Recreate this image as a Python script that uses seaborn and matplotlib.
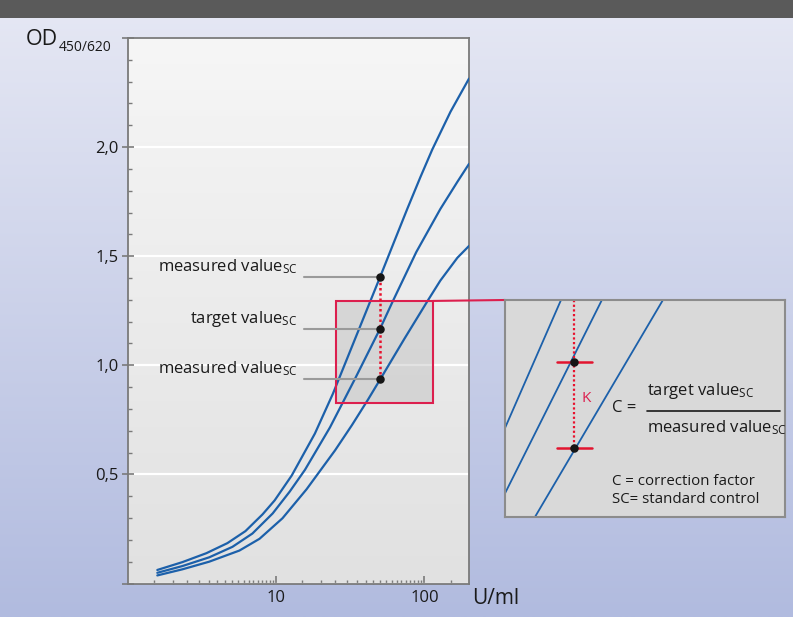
import numpy as np
import pandas as pd
import matplotlib
matplotlib.use("Agg")
import matplotlib.pyplot as plt
import seaborn as sns
from matplotlib.colors import LinearSegmentedColormap
from matplotlib.patches import Rectangle, ConnectionPatch
from matplotlib.ticker import FixedLocator, FixedFormatter, NullFormatter

# -------- DATA --------
top_x = [1.57, 2.32, 3.37, 4.67, 6.18, 8.07, 9.74, 12.7, 18.2, 24.1, 50.2, 63.6, 76.6, 94.0, 113, 150, 200]
top_y = [0.062, 0.098, 0.139, 0.185, 0.240, 0.317, 0.381, 0.495, 0.687, 0.870, 1.405, 1.580, 1.717, 1.863, 1.989, 2.162, 2.314]

mid_x = [1.57, 2.32, 3.52, 5.05, 6.89, 9.44, 12.3, 15.6, 23.0, 33.9, 50.2, 60.7, 88.1, 128, 167, 200]
mid_y = [0.049, 0.080, 0.120, 0.168, 0.229, 0.321, 0.421, 0.521, 0.715, 0.937, 1.168, 1.289, 1.519, 1.716, 1.841, 1.923]

bot_x = [1.57, 2.32, 3.52, 5.63, 7.70, 11.0, 16.0, 24.9, 32.4, 41.6, 50.2, 73.3, 105, 128, 167, 200]
bot_y = [0.037, 0.065, 0.100, 0.151, 0.205, 0.299, 0.432, 0.610, 0.726, 0.843, 0.935, 1.122, 1.295, 1.388, 1.493, 1.547]

# standard control reading
sc_conc = 50.2
sc_od = [1.405, 1.168, 0.935]
sc_labels = [r"measured value$_\mathregular{SC}$", r"target value$_\mathregular{SC}$",
             r"measured value$_\mathregular{SC}$"]

# zoomed window on the main chart
zoom_x = [25.2, 115]
zoom_y = [0.829, 1.295]

# schematic inset (own 0..1 units)
inset_x = [[0.200, 0.0], [0.346, 0.0], [0.564, 0.107]]
inset_y = [[1.0, 0.41], [1.0, 0.109], [1.0, 0.0]]
inset_dot_x = 0.246
inset_dot_y = [0.716, 0.317]

y_ticks = [0, 0.5, 1.0, 1.5, 2.0, 2.5]
y_ticklabels = ["", "0,5", "1,0", "1,5", "2,0", ""]
x_ticks = [10, 100]
x_ticklabels = ["10", "100"]

# -------- SETTINGS --------
sns.set_theme(style="white")
plt.rcParams["font.family"] = ["Open Sans", "DejaVu Sans"]
plt.rcParams["mathtext.fontset"] = "custom"
plt.rcParams["mathtext.rm"] = "Open Sans"
plt.rcParams["mathtext.it"] = "Open Sans:italic"
plt.rcParams["mathtext.bf"] = "Open Sans:bold"

BLUE = "#1c60aa"
RED = "#dc1f4e"
SPINE = "#7a7a7a"
TXT = "#1a1a1a"

W, H = 793, 617
fig = plt.figure(figsize=(W / 100, H / 100), dpi=100)

ax_rect = [128.3 / W, 33.5 / H, 340.7 / W, 545.5 / H]
in_rect = [505 / W, 100 / H, 280 / W, 217 / H]

# background gradients
bg = fig.add_axes([0, 0, 1, 1], zorder=-10)
grad = np.linspace(0, 1, 256).reshape(-1, 1)
bg.imshow(grad, aspect="auto", extent=(0, 1, 0, 1),
          cmap=LinearSegmentedColormap.from_list("bg", ["#e6e8f4", "#b1bbdf"]))
l, b, w, h = ax_rect
bg.imshow(grad, aspect="auto", extent=(l, l + w, b, b + h),
          cmap=LinearSegmentedColormap.from_list("ax", ["#f6f6f6", "#e1e1e1"]))
bg.add_patch(Rectangle((0, 1 - 18 / H), 1, 18 / H, color="#5a5a5a", lw=0))
bg.set_xlim(0, 1)
bg.set_ylim(0, 1)
bg.axis("off")

# -------- MAIN CHART --------
ax = fig.add_axes(ax_rect)
ax.set_facecolor("none")
ax.set_xscale("log")

df = pd.concat([
    pd.DataFrame({"U/ml": top_x, "OD": top_y, "curve": "a"}),
    pd.DataFrame({"U/ml": mid_x, "OD": mid_y, "curve": "b"}),
    pd.DataFrame({"U/ml": bot_x, "OD": bot_y, "curve": "c"}),
])
sns.lineplot(data=df, x="U/ml", y="OD", hue="curve", palette=[BLUE] * 3,
             estimator=None, sort=False, lw=1.6, legend=False, ax=ax, zorder=3)

ax.set_xlim(1, 200)
ax.set_ylim(0, 2.5)
ax.set_xlabel("")
ax.set_ylabel("")

ax.xaxis.set_major_locator(FixedLocator(x_ticks))
ax.xaxis.set_major_formatter(FixedFormatter(x_ticklabels))
minor_x = np.concatenate([np.arange(1.5, 10, 0.5), np.arange(15, 100, 5), [150]])
ax.xaxis.set_minor_locator(FixedLocator(minor_x))
ax.xaxis.set_minor_formatter(NullFormatter())
ax.yaxis.set_major_locator(FixedLocator(y_ticks))
ax.yaxis.set_major_formatter(FixedFormatter(y_ticklabels))
ax.yaxis.set_minor_locator(FixedLocator(np.arange(0.1, 2.5, 0.1)))

ax.tick_params(which="both", bottom=True, left=True, top=False, right=False,
               color=SPINE, labelcolor=TXT)
ax.tick_params(axis="x", which="major", direction="in", length=6, width=1.2, labelsize=12, pad=5)
ax.tick_params(axis="x", which="minor", direction="in", length=3, width=1.0)
ax.tick_params(axis="y", which="major", direction="inout", length=8, width=1.2, labelsize=12, pad=3)
ax.tick_params(axis="y", which="minor", direction="in", length=3, width=1.0)

for s in ax.spines.values():
    s.set_color(SPINE)
    s.set_linewidth(1.3)

ax.set_axisbelow(True)
ax.grid(False)
ax.yaxis.grid(True, which="major", color="white", lw=1.6)

# zoom window
ax.add_patch(Rectangle((zoom_x[0], zoom_y[0]), zoom_x[1] - zoom_x[0], zoom_y[1] - zoom_y[0],
                       facecolor="#b8b8b8", alpha=0.4, edgecolor="none", zorder=1))
ax.add_patch(Rectangle((zoom_x[0], zoom_y[0]), zoom_x[1] - zoom_x[0], zoom_y[1] - zoom_y[0],
                       facecolor="none", edgecolor=RED, lw=1.5, zorder=4))

# standard control annotations
ax.plot([sc_conc, sc_conc], [sc_od[0], sc_od[2]], color="#e8112d", lw=1.8,
        dashes=(1, 1.1), zorder=4)
for od, lab in zip(sc_od, sc_labels):
    ax.plot([15.3, sc_conc], [od, od], color="#9a9a9a", lw=1.5, zorder=4)
    ax.text(13.8, od + 0.027, lab, ha="right", va="baseline", fontsize=12, color=TXT)
ax.scatter([sc_conc] * 3, sc_od, s=26, color="#151515", zorder=5)

ax.text(-0.302, 0.987, "OD", transform=ax.transAxes, fontsize=15.5, ha="left",
        va="baseline", color=TXT)
ax.text(-0.205, 0.976, "450/620", transform=ax.transAxes, fontsize=10, ha="left",
        va="baseline", color=TXT)
ax.text(1.008, -0.028, "U/ml", transform=ax.transAxes, fontsize=15, ha="left",
        va="center", color=TXT)

# -------- INSET --------
axin = fig.add_axes(in_rect, zorder=5)
axin.set_facecolor("#d9d9d9")
axin.set_xlim(0, 1)
axin.set_ylim(0, 1)
axin.set_xticks([])
axin.set_yticks([])
for s in axin.spines.values():
    s.set_color("#8c8c8c")
    s.set_linewidth(1.5)

for xs, ys in zip(inset_x, inset_y):
    sns.lineplot(x=xs, y=ys, color=BLUE, lw=1.3, ax=axin, sort=False, estimator=None)

axin.plot([inset_dot_x, inset_dot_x], [1.0, inset_dot_y[1]], color="#e8112d", lw=1.6,
          dashes=(1, 1.1))
for yv in inset_dot_y:
    axin.plot([0.185, 0.31], [yv, yv], color="#e2142f", lw=1.8)
axin.scatter([inset_dot_x] * 2, inset_dot_y, s=26, color="#151515", zorder=5)
axin.text(0.289, 0.548, "K", color=RED, fontsize=11, ha="center", va="center")

axin.text(0.381, 0.502, "C =", fontsize=12, ha="left", va="center", color=TXT)
axin.text(0.506, 0.562, r"target value$_\mathregular{SC}$", fontsize=12, ha="left",
          va="baseline", color=TXT)
axin.plot([0.506, 0.982], [0.49, 0.49], color=TXT, lw=1.2)
axin.text(0.506, 0.389, r"measured value$_\mathregular{SC}$", fontsize=12, ha="left",
          va="baseline", color=TXT)
axin.text(0.381, 0.147, "C = correction factor", fontsize=10.8, ha="left", va="baseline", color=TXT)
axin.text(0.381, 0.066, "SC= standard control", fontsize=10.8, ha="left", va="baseline", color=TXT)

# connector from zoom window to inset
con = ConnectionPatch(xyA=(zoom_x[1], zoom_y[1]), coordsA=ax.transData,
                      xyB=(0, 1), coordsB=axin.transAxes, color=RED, lw=1.5)
fig.add_artist(con)

fig.savefig("out.png", dpi=100)
